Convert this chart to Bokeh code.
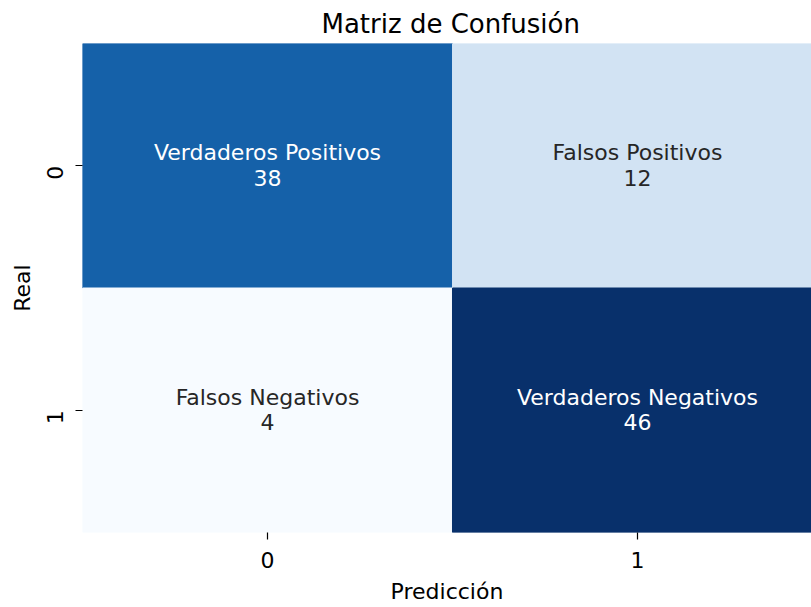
import numpy as np
from bokeh.plotting import figure
from bokeh.models import LinearColorMapper, ColumnDataSource, FixedTicker, Range1d
from bokeh.palettes import Blues256
from bokeh.core.properties import value
from bokeh.embed import file_html
from bokeh.resources import INLINE

# ---- data ----
chart_title = "Matriz de Confusión"
x_label = "Predicción"
y_label = "Real"
tick_values = [0, 1]
tick_labels = ["0", "1"]
pred = [0, 1, 0, 1]
real = [0, 0, 1, 1]
counts = [38, 12, 4, 46]
names = ["Verdaderos Positivos", "Falsos Positivos", "Falsos Negativos", "Verdaderos Negativos"]

FONT = "DejaVu Sans"
vmin, vmax = min(counts), max(counts)
palette = list(Blues256)[::-1]  # light -> dark, like matplotlib "Blues"
mapper = LinearColorMapper(palette=palette, low=vmin, high=vmax)
txt_col = ["#ffffff" if (c - vmin) / (vmax - vmin) > 0.5 else "#262626" for c in counts]

src = ColumnDataSource(dict(x=pred, y=real, v=counts, name=names,
                            num=[str(c) for c in counts], tc=txt_col))

p = figure(frame_width=729, frame_height=489,
           x_range=Range1d(-0.5, 1.4703), y_range=Range1d(1.5, -0.5),
           output_backend="svg", toolbar_location=None,
           min_border_left=82, min_border_right=0, min_border_top=43, min_border_bottom=74)

p.rect(x="x", y="y", width=1, height=1, source=src,
       fill_color={"field": "v", "transform": mapper},
       line_color={"field": "v", "transform": mapper}, line_width=1)

p.text(x="x", y="y", text="name", source=src, text_color="tc",
       text_font=value(FONT), text_font_size="22px",
       text_align="center", text_baseline="middle", y_offset=-13)
p.text(x="x", y="y", text="num", source=src, text_color="tc",
       text_font=value(FONT), text_font_size="22px",
       text_align="center", text_baseline="middle", y_offset=12)

p.title.text = chart_title
p.title.text_font = FONT
p.title.text_font_size = "26px"
p.title.text_font_style = "normal"
p.title.text_color = "#000000"
p.title.align = "left"
p.title.offset = 239

p.grid.visible = False
p.outline_line_color = None
p.background_fill_color = "white"

for ax in (p.xaxis[0], p.yaxis[0]):
    ax.ticker = FixedTicker(ticks=tick_values)
    ax.major_label_overrides = {v: l for v, l in zip(tick_values, tick_labels)}
    ax.minor_tick_line_color = None
    ax.axis_line_color = None
    ax.major_tick_in = 0
    ax.major_tick_out = 7
    ax.major_tick_line_color = "#000000"
    ax.major_tick_line_width = 1.2
    ax.major_label_text_font = FONT
    ax.major_label_text_font_size = "22px"
    ax.major_label_text_color = "#000000"
    ax.axis_label_text_font = FONT
    ax.axis_label_text_font_size = "22px"
    ax.axis_label_text_font_style = "normal"
    ax.axis_label_text_color = "#000000"

p.xaxis.axis_label = x_label
p.yaxis.axis_label = y_label
p.yaxis.major_label_orientation = np.pi / 2
p.yaxis.major_label_text_align = "center"
p.yaxis.major_label_text_baseline = "bottom"
p.xaxis.major_label_standoff = 12
p.yaxis.major_label_standoff = 21
p.xaxis.axis_label_standoff = 8
p.yaxis.axis_label_standoff = 1

open("out.html", "w").write(file_html(p, INLINE))
